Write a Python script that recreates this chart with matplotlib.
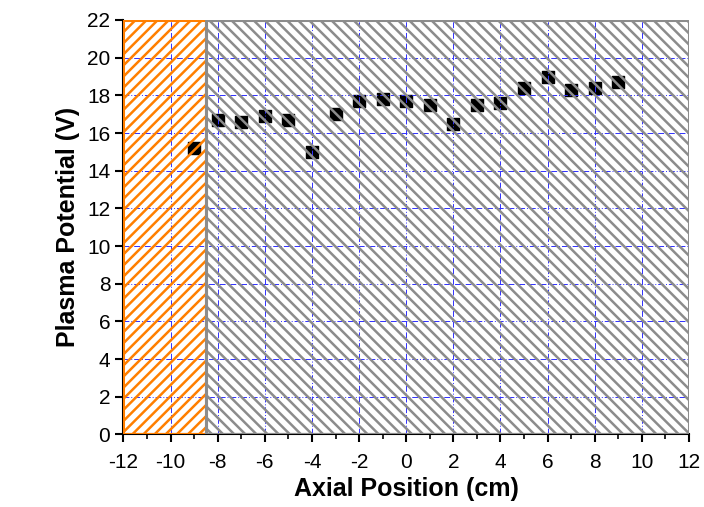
import matplotlib
matplotlib.use("Agg")
import matplotlib.pyplot as plt
from matplotlib.patches import Rectangle
from matplotlib.ticker import MultipleLocator

plt.rcParams['font.family'] = ['Liberation Sans', 'DejaVu Sans']
plt.rcParams['hatch.linewidth'] = 1.8
plt.rcParams['axes.unicode_minus'] = False

x_pos = [-9, -8, -7, -6, -5, -4, -3, -2, -1, 0, 1, 2, 3, 4, 5, 6, 7, 8, 9]
potential = [15.2, 16.7, 16.6, 16.9, 16.7, 15.0, 17.0, 17.7, 17.8, 17.7, 17.5,
             16.5, 17.5, 17.6, 18.4, 19.0, 18.3, 18.4, 18.7]
orange_region = (-12, -8.5)
gray_region = (-8.5, 12)

fig = plt.figure(figsize=(7.04, 5.07), dpi=100)
ax = fig.add_axes([0.1754, 0.143, 0.8033, 0.8176])

ax.scatter(x_pos, potential, marker='s', s=85, color='black', zorder=2)

ax.add_patch(Rectangle((orange_region[0], 0), orange_region[1] - orange_region[0], 22,
                       facecolor='none', edgecolor='#ff7f00', hatch='///', lw=2.2, zorder=3))
ax.add_patch(Rectangle((gray_region[0], 0), gray_region[1] - gray_region[0], 22,
                       facecolor='none', edgecolor='#8c8c8c', hatch='\\\\\\', lw=2.2, zorder=3))

ax.set_xlim(-12, 12)
ax.set_ylim(0, 22)
ax.xaxis.set_major_locator(MultipleLocator(2))
ax.xaxis.set_minor_locator(MultipleLocator(1))
ax.yaxis.set_major_locator(MultipleLocator(2))
ax.grid(True, which='major', color='#3030ff', linestyle=(0, (6, 2, 1, 2)), lw=0.7, zorder=4)
ax.set_axisbelow(False)
for s in ['top', 'right']:
    ax.spines[s].set_visible(False)
ax.spines['left'].set_linewidth(1.5)
ax.spines['bottom'].set_linewidth(1.5)
ax.tick_params(axis='both', which='major', direction='out', length=6, width=1.5, labelsize=15)
ax.tick_params(axis='x', which='major', pad=7)
ax.tick_params(axis='x', which='minor', direction='out', length=3.5, width=1.2)
ax.set_xlabel('Axial Position (cm)', fontsize=18, fontweight='bold', labelpad=4)
ax.set_ylabel('Plasma Potential (V)', fontsize=18, fontweight='bold', labelpad=5)

fig.savefig('out.png', dpi=100)
